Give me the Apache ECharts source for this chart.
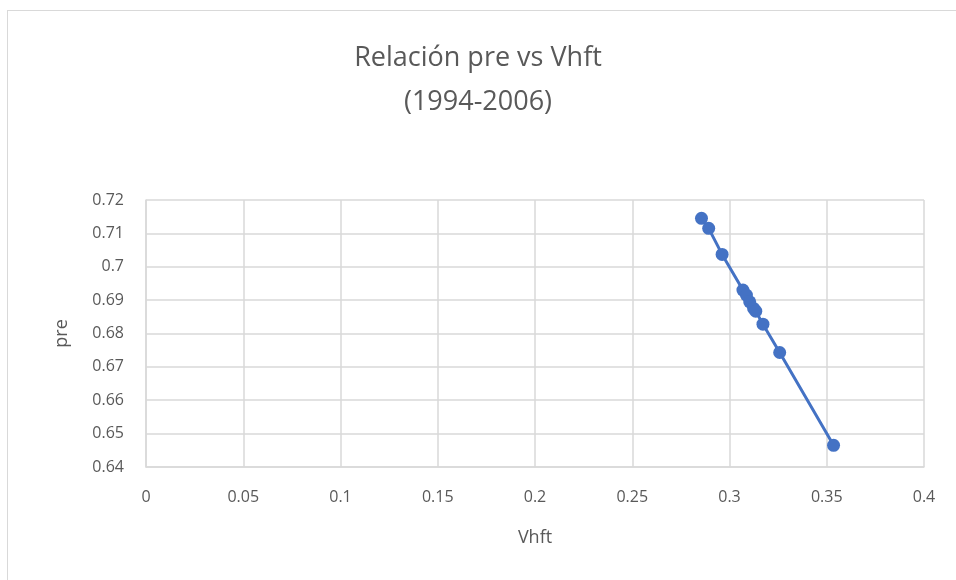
<!DOCTYPE html>
<html>
<head>
<meta charset="utf-8">
<script src="https://cdn.jsdelivr.net/npm/echarts@6/dist/echarts.min.js"></script>
<style>
  html, body { margin: 0; padding: 0; background: #fff; }
  #frame {
    position: absolute; left: 7px; top: 10px; width: 960px; height: 580px;
    border: 1px solid #d9d9d9; box-sizing: border-box;
  }
  #chart { position: absolute; left: 0; top: 0; width: 956px; height: 580px; }
</style>
</head>
<body>
<div id="frame"></div>
<div id="chart"></div>
<script>
// Vhft (x) vs pre (y), 1994-2006
const vhft = [0.2856, 0.2893, 0.2962, 0.3069, 0.3087, 0.3104, 0.3124, 0.3135, 0.3172, 0.3258, 0.3535]
const pre = [0.7145, 0.7115, 0.7037, 0.6930, 0.6915, 0.6895, 0.6875, 0.6867, 0.6828, 0.6743, 0.6465]
const points = vhft.map((v, i) => [v, pre[i]])

const textColor = '#595959'
const gridColor = '#d9d9d9'
const font = 'Open Sans'

const chart = echarts.init(document.getElementById('chart'))
chart.setOption({
  animation: false,
  backgroundColor: 'transparent',
  title: {
    text: 'Relación pre vs Vhft\n(1994-2006)',
    left: 'center',
    top: 31,
    textStyle: {
      color: textColor,
      fontFamily: font,
      fontWeight: 'normal',
      fontSize: 27,
      lineHeight: 44,
    },
  },
  grid: {
    left: 146,
    right: 32,
    top: 200,
    bottom: 113,
  },
  xAxis: {
    type: 'value',
    min: 0,
    max: 0.4,
    interval: 0.05,
    name: 'Vhft',
    nameLocation: 'middle',
    nameGap: 62,
    nameTextStyle: { color: textColor, fontFamily: font, fontSize: 18 },
    axisLine: { show: true, lineStyle: { color: gridColor, width: 1.5 } },
    axisTick: { show: false },
    axisLabel: { color: textColor, fontFamily: font, fontSize: 16, margin: 22 },
    splitLine: { show: true, lineStyle: { color: gridColor, width: 1.5 } },
  },
  yAxis: {
    type: 'value',
    min: 0.64,
    max: 0.72,
    interval: 0.01,
    name: 'pre',
    nameLocation: 'middle',
    nameGap: 75,
    nameTextStyle: { color: textColor, fontFamily: font, fontSize: 18 },
    axisLine: { show: true, lineStyle: { color: gridColor, width: 1.5 } },
    axisTick: { show: false },
    axisLabel: {
      color: textColor,
      fontFamily: font,
      fontSize: 16,
      margin: 22,
      formatter: v => String(+v.toFixed(2)),
    },
    splitLine: { show: true, lineStyle: { color: gridColor, width: 1.5 } },
  },
  series: [
    {
      type: 'line',
      data: points,
      symbol: 'circle',
      symbolSize: 13,
      showAllSymbol: true,
      itemStyle: { color: '#4472C4' },
      lineStyle: { color: '#4472C4', width: 3 },
    },
  ],
})
</script>
</body>
</html>
